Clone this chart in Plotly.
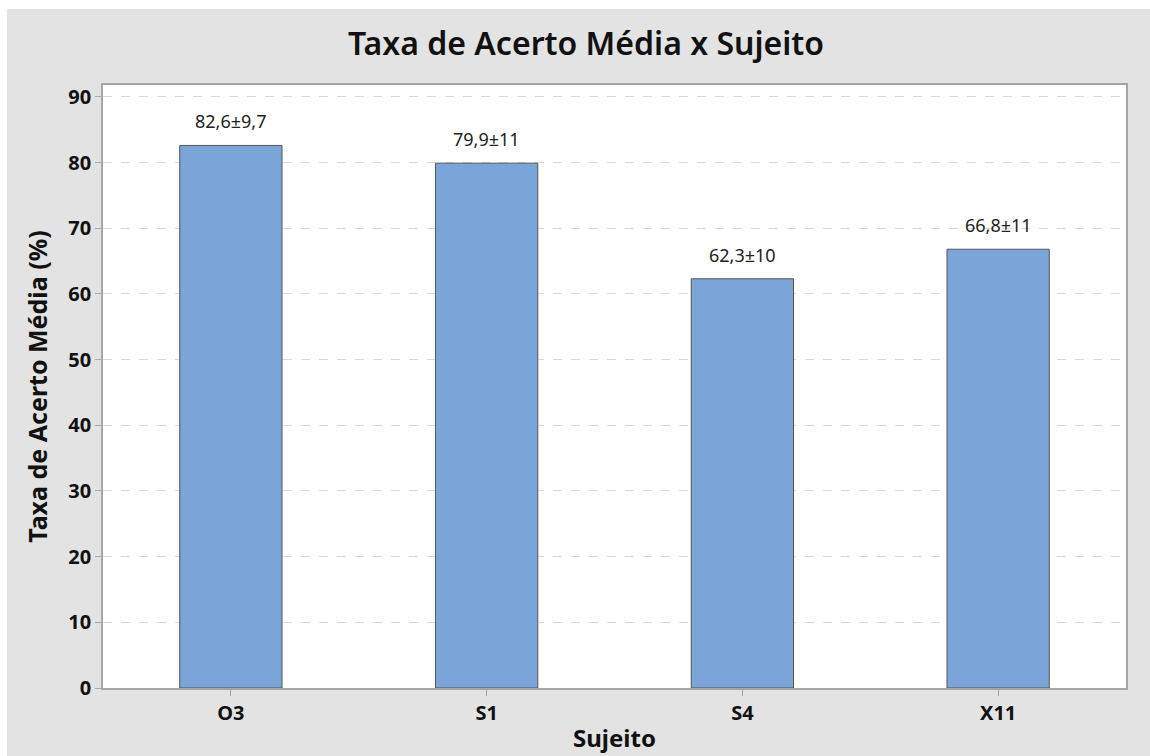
import plotly.graph_objects as go

# Taxa de acerto média por sujeito (média ± desvio padrão)
sujeitos = ["O3", "S1", "S4", "X11"]
media = [82.6, 79.9, 62.3, 66.8]
desvio = ["9,7", "11", "10", "11"]
y_ticks = [0, 10, 20, 30, 40, 50, 60, 70, 80, 90]

FONT = "Noto Sans, Open Sans, DejaVu Sans, sans-serif"
BG = "#e3e3e3"

def fmt(v):
    return f"{v:.1f}".replace(".", ",")

labels = [f"{fmt(m)}±{d}" for m, d in zip(media, desvio)]

fig = go.Figure()
fig.add_trace(go.Bar(
    x=sujeitos,
    y=media,
    width=0.4,
    marker=dict(color="#7ba5d8", line=dict(color="#555555", width=1)),
    hoverinfo="x+y",
))

for s, m, lab in zip(sujeitos, media, labels):
    fig.add_annotation(
        x=s, y=m, text=lab, showarrow=False,
        yanchor="bottom", yshift=10,
        font=dict(family=FONT, size=18, color="#222222"),
    )

# faixas brancas nas bordas superior e esquerda
fig.add_shape(type="rect", xref="paper", yref="paper",
              x0=-0.2, x1=1.1, y0=1.0 + (85 - 9) / 603, y1=1.3,
              fillcolor="white", line=dict(width=0), layer="above")
fig.add_shape(type="rect", xref="paper", yref="paper",
              x0=-0.2, x1=(7 - 103) / 1023, y0=-0.2, y1=1.3,
              fillcolor="white", line=dict(width=0), layer="above")

fig.update_layout(
    width=1150, height=756,
    margin=dict(l=103, r=24, t=85, b=68),
    paper_bgcolor=BG,
    plot_bgcolor="white",
    showlegend=False,
    title=dict(
        text="Taxa de Acerto Média x Sujeito",
        x=586 / 1150, xanchor="center",
        y=1 - 44 / 756, yanchor="middle",
        font=dict(family=FONT, size=32, color="#111111", weight=600),
    ),
    font=dict(family=FONT),
)

fig.update_xaxes(
    range=[-0.5, 3.5],
    automargin=False,
    showline=True, linecolor="#a6a6a6", linewidth=1.5, mirror=True,
    ticks="outside", ticklen=6, tickcolor="#a6a6a6",
    tickfont=dict(family=FONT, size=20, color="#111111", weight="bold"),
    title=dict(text="Sujeito", standoff=5,
               font=dict(family=FONT, size=24, color="#111111", weight="bold")),
    showgrid=False,
)
fig.update_yaxes(
    range=[0, 91.8],
    tickvals=y_ticks,
    automargin=False,
    showline=True, linecolor="#a6a6a6", linewidth=1.5, mirror=True,
    ticks="outside", ticklen=6, tickcolor="#a6a6a6",
    tickfont=dict(family=FONT, size=20, color="#111111", weight="bold"),
    showgrid=True, gridcolor="#d9d9d9", griddash="dash", gridwidth=1,
    zeroline=False,
    title=dict(text="Taxa de Acerto Média (%)", standoff=14,
               font=dict(family=FONT, size=25, color="#111111", weight="bold")),
)

fig.write_html("out.html")
